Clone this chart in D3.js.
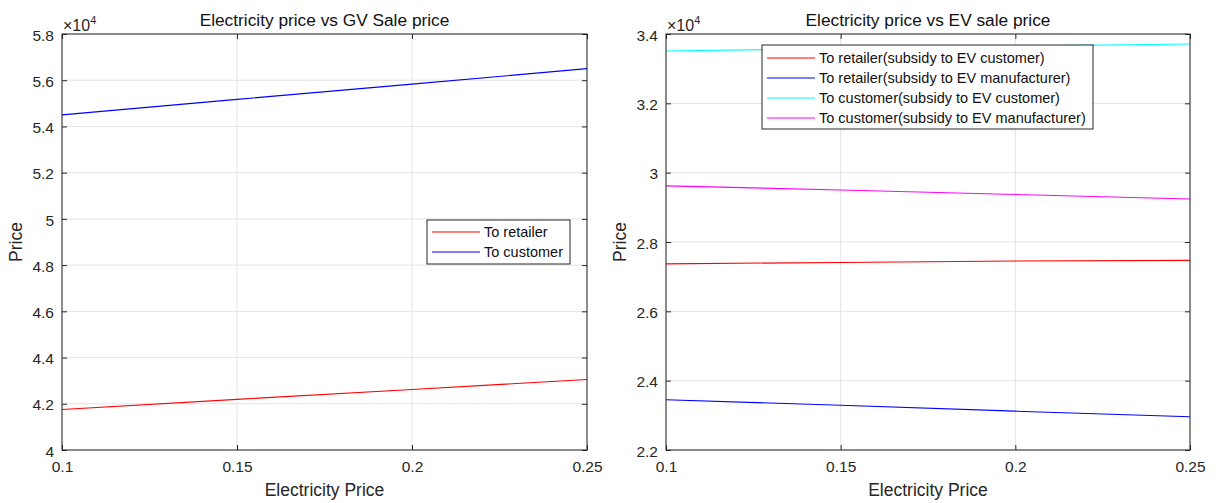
<!DOCTYPE html>
<html>
<head>
<meta charset="utf-8">
<script src="https://cdn.jsdelivr.net/npm/d3@7"></script>
<style>
  html, body { margin: 0; padding: 0; background: #fff; }
  svg { display: block; font-family: "Liberation Sans", Arial, Helvetica, sans-serif; }
</style>
</head>
<body>
<svg id="chart" width="1216" height="503"></svg>
<script>
// Electricity price samples (x axis)
const electricityPrice = [0.1, 0.15, 0.2, 0.25];
const xTicks = [0.1, 0.15, 0.2, 0.25];

// Gasoline vehicle sale prices (in units of 1e4)
const gvToRetailer = [4.175, 4.219, 4.262, 4.305];
const gvToCustomer = [5.45, 5.517, 5.583, 5.65];
const gvTicks = [4, 4.2, 4.4, 4.6, 4.8, 5, 5.2, 5.4, 5.6, 5.8];

// Electric vehicle sale prices (in units of 1e4)
const evRetailerSubCustomer = [2.737, 2.741, 2.745, 2.747];
const evRetailerSubManufacturer = [2.345, 2.329, 2.312, 2.296];
const evCustomerSubCustomer = [3.351, 3.358, 3.365, 3.371];
const evCustomerSubManufacturer = [2.962, 2.950, 2.937, 2.924];
const evTicks = [2.2, 2.4, 2.6, 2.8, 3, 3.2, 3.4];

const svg = d3.select("#chart");
const ink = "#262626";

function drawPanel(cfg) {
  const x = d3.scaleLinear().domain([0.1, 0.25]).range([cfg.left, cfg.right]);
  const y = d3.scaleLinear().domain(cfg.yDomain).range([cfg.bottom, cfg.top]);
  const g = svg.append("g");

  // grid
  g.append("g").selectAll("line").data(xTicks).join("line")
    .attr("x1", d => x(d)).attr("x2", d => x(d))
    .attr("y1", cfg.top).attr("y2", cfg.bottom)
    .attr("stroke", "#e3e3e3").attr("stroke-width", 1);
  g.append("g").selectAll("line").data(cfg.yTicks).join("line")
    .attr("x1", cfg.left).attr("x2", cfg.right)
    .attr("y1", d => y(d)).attr("y2", d => y(d))
    .attr("stroke", "#e3e3e3").attr("stroke-width", 1);

  // series
  const line = d3.line().x((d, i) => x(electricityPrice[i])).y(d => y(d));
  cfg.series.forEach(s => {
    g.append("path").datum(s.values)
      .attr("d", line).attr("fill", "none")
      .attr("stroke", s.color).attr("stroke-width", 1.1);
  });

  // axes (ticks inward, on all four sides)
  const tl = 5;
  g.append("g").attr("transform", `translate(0,${cfg.bottom})`)
    .call(d3.axisBottom(x).tickValues(xTicks).tickSizeInner(-tl).tickSizeOuter(0)
      .tickPadding(11).tickFormat(d => String(d)))
    .call(a => a.select(".domain").remove());
  g.append("g").attr("transform", `translate(0,${cfg.top})`)
    .call(d3.axisTop(x).tickValues(xTicks).tickSizeInner(-tl).tickSizeOuter(0).tickFormat(""))
    .call(a => a.select(".domain").remove());
  g.append("g").attr("class", "yaxis").attr("transform", `translate(${cfg.left},0)`)
    .call(d3.axisLeft(y).tickValues(cfg.yTicks).tickSizeInner(-tl).tickSizeOuter(0)
      .tickPadding(8).tickFormat(d => String(d)))
    .call(a => a.select(".domain").remove());
  g.append("g").attr("transform", `translate(${cfg.right},0)`)
    .call(d3.axisRight(y).tickValues(cfg.yTicks).tickSizeInner(-tl).tickSizeOuter(0).tickFormat(""))
    .call(a => a.select(".domain").remove());
  g.selectAll(".tick line").attr("stroke", ink);
  g.selectAll(".tick text").attr("fill", ink)
    .style("font-size", "15.5px").style("font-family", "'Liberation Sans', Arial, sans-serif");
  g.selectAll(".yaxis .tick text").attr("dy", "0.4em");

  // box
  g.append("rect")
    .attr("x", cfg.left).attr("y", cfg.top)
    .attr("width", cfg.right - cfg.left).attr("height", cfg.bottom - cfg.top)
    .attr("fill", "none").attr("stroke", ink).attr("stroke-width", 1);

  // exponent label
  const ex = g.append("text").attr("x", cfg.left + 1).attr("y", cfg.top - 3)
    .attr("fill", ink).style("font-size", "16px");
  ex.append("tspan").text("\u00d710");
  ex.append("tspan").attr("dy", -7).style("font-size", "11px").text("4");

  // title and axis labels
  g.append("text").attr("x", (cfg.left + cfg.right) / 2).attr("y", 26)
    .attr("text-anchor", "middle").attr("fill", "#111").style("font-size", "17.3px")
    .text(cfg.title);
  g.append("text").attr("x", (cfg.left + cfg.right) / 2).attr("y", 496)
    .attr("text-anchor", "middle").attr("fill", ink).style("font-size", "17.5px")
    .text("Electricity Price");
  g.append("text")
    .attr("transform", `translate(${cfg.left - 40},${(cfg.top + cfg.bottom) / 2}) rotate(-90)`)
    .attr("text-anchor", "middle").attr("fill", ink).style("font-size", "17.5px")
    .text("Price");

  // legend
  const lg = cfg.legend;
  g.append("rect").attr("x", lg.x).attr("y", lg.y).attr("width", lg.w).attr("height", lg.h)
    .attr("fill", "#fff").attr("stroke", ink).attr("stroke-width", 1);
  cfg.series.forEach((s, i) => {
    const yy = lg.y + lg.first + i * lg.step;
    g.append("line").attr("x1", lg.x + 5).attr("x2", lg.x + 53)
      .attr("y1", yy).attr("y2", yy).attr("stroke", s.color).attr("stroke-width", 1.1);
    g.append("text").attr("x", lg.x + 57).attr("y", yy).attr("dy", "0.35em")
      .attr("fill", "#111").style("font-size", "14.5px").text(s.name);
  });
}

drawPanel({
  left: 62, right: 587, top: 34, bottom: 450,
  yDomain: [4, 5.8], yTicks: gvTicks,
  title: "Electricity price vs GV Sale price",
  series: [
    { name: "To retailer", color: "#ff0000", values: gvToRetailer },
    { name: "To customer", color: "#0000ff", values: gvToCustomer }
  ],
  legend: { x: 427, y: 220, w: 143, h: 44, first: 12, step: 20 }
});

drawPanel({
  left: 666, right: 1190, top: 34, bottom: 450,
  yDomain: [2.2, 3.4], yTicks: evTicks,
  title: "Electricity price vs EV sale price",
  series: [
    { name: "To retailer(subsidy to EV customer)", color: "#ff0000", values: evRetailerSubCustomer },
    { name: "To retailer(subsidy to EV manufacturer)", color: "#0000ff", values: evRetailerSubManufacturer },
    { name: "To customer(subsidy to EV customer)", color: "#00ffff", values: evCustomerSubCustomer },
    { name: "To customer(subsidy to EV manufacturer)", color: "#ff00ff", values: evCustomerSubManufacturer }
  ],
  legend: { x: 762, y: 45, w: 331, h: 84, first: 13, step: 20 }
});
</script>
</body>
</html>
